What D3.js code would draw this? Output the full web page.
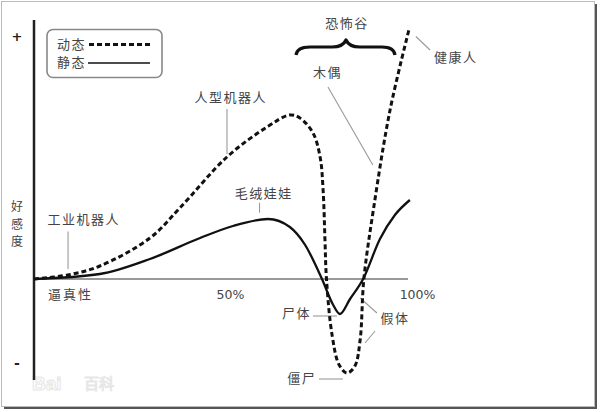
<!DOCTYPE html>
<html>
<head>
<meta charset="utf-8">
<title>恐怖谷</title>
<script src="https://cdn.jsdelivr.net/npm/d3@7"></script>
<style>
  body { margin: 0; background: #fff; }
  svg text { font-family: "Noto Sans CJK SC", sans-serif; }
</style>
</head>
<body>
<svg id="viz" width="600" height="412"></svg>
<script>
// realism (%) vs affinity
var movingX = [0, 9, 17.6, 31, 39, 51.6, 62.3, 68.4, 71.1, 74.6, 76.5, 77.3, 77.8, 78.2, 79.7, 81.6, 83.7, 85.8, 87.2, 88.2, 90.9, 95.2, 100.3];
var movingY = [0, 1.6, 5.2, 16.4, 28.4, 48.8, 60.8, 65.6, 64.4, 58.4, 48.8, 35.6, 15.6, 0, -22.4, -34.4, -37.6, -34.8, -24.4, 0, 29.2, 67.6, 100];
var stillX = [0, 17.6, 31, 44.4, 53.2, 62.6, 68.4, 72.5, 77, 80, 81.8, 84.5, 88, 92.5, 96.5, 100.5];
var stillY = [0, 2, 8, 16.4, 21.2, 24, 20.8, 13.6, 0, -10.4, -14, -8, 0, 16, 25.6, 31.6];
var tickValues = [50, 100];
var tickLabels = ["50%", "100%"];
var legendNames = ["动态", "静态"];

// labels: [text, x%, affinity, leader x1%, y1, x2%, y2]
var notes = [
  ["人型机器人", 52.6, 70.8, 51.6, 68, 51.6, 50],
  ["毛绒娃娃", 61.4, 32.4, 60.3, 30.5, 60.3, 26.5],
  ["工业机器人", 13.3, 22, 9.1, 19, 9.1, 4],
  ["木偶", 78.5, 80.8, 78.6, 76.8, 90.6, 45.6],
  ["健康人", 112.8, 86.8, 102.1, 97, 105.9, 91.6],
  ["尸体", 70.2, -15.6, 74.6, -14.8, 81, -14.8],
  ["假体", 96.5, -17.6, 87.2, -7.6, 91.7, -13.6],
  ["", 0, 0, 91.2, -20.8, 88.5, -25.6],
  ["僵尸", 71.6, -41.6, 76.2, -40, 82.6, -40]
];

var svg = d3.select("#viz");

var x = d3.scaleLinear().domain([0, 100]).range([34, 408]);
var y = d3.scaleLinear().domain([-40, 100]).range([379, 29]);

// picture frame with shadow
svg.append("rect").attr("x", 4).attr("y", 4).attr("width", 593).attr("height", 405)
  .attr("fill", "#555");
svg.append("rect").attr("x", 1.5).attr("y", 1.5).attr("width", 593).attr("height", 405)
  .attr("fill", "#fff").attr("stroke", "#bbb").attr("stroke-width", 1);

// watermark
svg.append("text").attr("x", 32).attr("y", 390).text("Bai")
  .style("font-family", "Arial, sans-serif").style("font-size", "19px").style("font-weight", "bold")
  .attr("fill", "#fff").attr("stroke", "#e6e6e6").attr("stroke-width", 1);
svg.append("text").attr("x", 84).attr("y", 389).text("百科")
  .style("font-size", "15px").attr("fill", "#fff").attr("stroke", "#e6e6e6").attr("stroke-width", 1);

// x axis (gray line, labels only)
svg.append("line").attr("x1", x(0)).attr("x2", x(100)).attr("y1", y(0)).attr("y2", y(0))
  .attr("stroke", "#777").attr("stroke-width", 1.5);
var xAxis = d3.axisBottom(x).tickValues(tickValues)
  .tickFormat(function(d, i) { return tickLabels[i]; }).tickSize(0).tickPadding(11);
var gx = svg.append("g").attr("transform", "translate(9," + y(0) + ")").call(xAxis);
gx.select(".domain").remove();
gx.selectAll("text").style("font-family", "DejaVu Sans, Verdana, sans-serif")
  .style("font-size", "12.5px").attr("fill", "#444");

svg.append("text").attr("x", 48).attr("y", 299).text("逼真性")
  .style("font-size", "13px").style("letter-spacing", "2px").attr("fill", "#444");

// y axis
svg.append("line").attr("x1", x(0)).attr("x2", x(0)).attr("y1", 20).attr("y2", 380)
  .attr("stroke", "#222").attr("stroke-width", 2.5);
svg.append("text").attr("x", 17).attr("y", 41).attr("text-anchor", "middle").text("+")
  .style("font-family", "DejaVu Sans, sans-serif").style("font-size", "13px").style("font-weight", "bold").attr("fill", "#222");
svg.append("text").attr("x", 17).attr("y", 368).attr("text-anchor", "middle").text("-")
  .style("font-family", "DejaVu Sans, sans-serif").style("font-size", "14px").style("font-weight", "bold").attr("fill", "#222");
["好", "感", "度"].forEach(function(c, i) {
  svg.append("text").attr("x", 17).attr("y", 211 + i * 17.5).attr("text-anchor", "middle").text(c)
    .style("font-size", "12px").attr("fill", "#444");
});

// leader lines and labels
svg.selectAll(".lead").data(notes).enter().append("line").attr("class", "lead")
  .attr("x1", function(d) { return x(d[3]); }).attr("y1", function(d) { return y(d[4]); })
  .attr("x2", function(d) { return x(d[5]); }).attr("y2", function(d) { return y(d[6]); })
  .attr("stroke", "#999").attr("stroke-width", 1.1);
svg.selectAll(".note").data(notes).enter().append("text").attr("class", "note")
  .attr("x", function(d) { return x(d[1]); }).attr("y", function(d) { return y(d[2]); })
  .attr("text-anchor", "middle").text(function(d) { return d[0]; })
  .style("font-size", "13px").style("letter-spacing", "1.5px").attr("fill", "#444");

// curves
var line = d3.line().curve(d3.curveMonotoneX)
  .x(function(d) { return x(d[0]); }).y(function(d) { return y(d[1]); });
var moving = movingX.map(function(v, i) { return [v, movingY[i]]; });
var still = stillX.map(function(v, i) { return [v, stillY[i]]; });

svg.append("path").datum(still).attr("d", line).attr("fill", "none")
  .attr("stroke", "#111").attr("stroke-width", 2.3);
svg.append("path").datum(moving).attr("d", d3.line().curve(d3.curveCatmullRom.alpha(0.5))
    .x(function(d) { return x(d[0]); }).y(function(d) { return y(d[1]); }))
  .attr("fill", "none").attr("stroke", "#111").attr("stroke-width", 3).attr("stroke-dasharray", "5,3");

// uncanny valley brace
svg.append("path")
  .attr("d", "M296,55 Q297,47 310,47 L332,47 Q343,47 346,40 Q349,47 360,47 L382,47 Q394,47 395,55")
  .attr("fill", "none").attr("stroke", "#111").attr("stroke-width", 3.2).attr("stroke-linejoin", "round");
svg.append("text").attr("x", 347).attr("y", 28).attr("text-anchor", "middle").text("恐怖谷")
  .style("font-size", "13px").style("letter-spacing", "1.5px").attr("fill", "#444");

// legend
var lg = svg.append("g");
lg.append("rect").attr("x", 47).attr("y", 29.5).attr("width", 115).attr("height", 48).attr("rx", 6)
  .attr("fill", "#fff").attr("stroke", "#888").attr("stroke-width", 1.6);
lg.selectAll("text").data(legendNames).enter().append("text")
  .attr("x", 57).attr("y", function(d, i) { return 49 + i * 18; }).text(function(d) { return d; })
  .style("font-size", "13px").style("letter-spacing", "1.5px").attr("fill", "#444");
lg.append("line").attr("x1", 89).attr("x2", 150).attr("y1", 44.5).attr("y2", 44.5)
  .attr("stroke", "#111").attr("stroke-width", 3).attr("stroke-dasharray", "5,3");
lg.append("line").attr("x1", 88).attr("x2", 150).attr("y1", 63).attr("y2", 63)
  .attr("stroke", "#111").attr("stroke-width", 1.5);
</script>
</body>
</html>
